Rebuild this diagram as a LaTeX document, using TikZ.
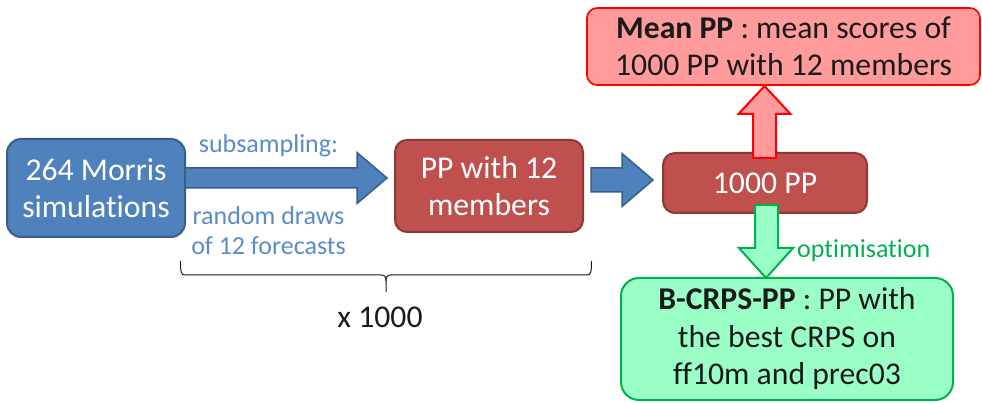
\documentclass[tikz,border=0pt]{standalone}
\usepackage{fontspec}
\setmainfont{Carlito}[Ligatures={NoCommon,NoRare,NoContextual}]
\definecolor{bluefill}{HTML}{4F81BD}
\definecolor{blueline}{HTML}{385D8A}
\definecolor{bluetext}{HTML}{5A8BCB}
\definecolor{redfill}{HTML}{C0504D}
\definecolor{redline}{HTML}{8C3836}
\definecolor{pinkfill}{HTML}{FF9B9B}
\definecolor{pinkline}{HTML}{FF0000}
\definecolor{greenfill}{HTML}{99FFC6}
\definecolor{greenline}{HTML}{00B050}
\definecolor{darktext}{HTML}{1A1A1A}
\tikzset{
  bigfont/.style={font=\fontsize{31.7}{37.5}\selectfont},
  smallfont/.style={font=\fontsize{26}{30}\selectfont},
  bluebox/.style={draw=blueline, fill=bluefill, line width=2pt, rounded corners=14pt, text=white, bigfont, align=center, inner sep=0pt},
  redbox/.style={draw=redline, fill=redfill, line width=2pt, rounded corners=12pt, text=white, bigfont, align=center, inner sep=0pt},
  pinkbox/.style={draw=pinkline, fill=pinkfill, line width=1.6pt, rounded corners=10pt, text=darktext, bigfont, align=center, inner sep=0pt},
  greenbox/.style={draw=greenline, fill=greenfill, line width=2pt, rounded corners=18pt, text=darktext, bigfont, align=center, inner sep=0pt},
  bluearrow/.style={draw=blueline, fill=bluefill, line width=1.5pt, line join=miter},
  pinkarrow/.style={draw=pinkline, fill=pinkfill, line width=2pt, line join=miter},
  greenarrow/.style={draw=greenline, fill=greenfill, line width=2pt, line join=miter},
  bluelabel/.style={text=bluetext, smallfont, align=center, inner sep=0pt},
  greenlabel/.style={text=greenline, smallfont, inner sep=0pt},
  bracestyle/.style={draw=darktext, line width=1pt},
}
\begin{document}
\begin{tikzpicture}[x=1pt,y=-1pt]
\useasboundingbox (0,0) rectangle (982,403);
% boxes
\node[bluebox, minimum width=178pt, minimum height=98pt] (morris) at (96,188) {264 Morris\\simulations};
\node[redbox, minimum width=188pt, minimum height=92pt] (pp12) at (489,186) {PP with 12\\members};
\node[redbox, minimum width=204pt, minimum height=60pt] (pp1000) at (765,183) {1000 PP};
\node[pinkbox, minimum width=393pt, minimum height=77pt] (mean) at (783.5,46.5) {\textbf{Mean PP} : mean scores of\\1000 PP with 12 members};
\node[greenbox, minimum width=332pt, minimum height=122pt] (best) at (787,339) {\textbf{B-CRPS-PP} : PP with\\the best CRPS on\\ff10m and prec03};
% block arrows
\draw[bluearrow] (185,168) -- (357,168) -- (357,152.5) -- (387,178) -- (357,203.5) -- (357,188) -- (185,188) -- cycle;
\draw[bluearrow] (591,168) -- (622,168) -- (622,153.5) -- (653,180) -- (622,206.5) -- (622,192) -- (591,192) -- cycle;
\draw[pinkarrow] (753,158) -- (753,114) -- (738.5,114) -- (764.5,86) -- (790.5,114) -- (776,114) -- (776,158) -- cycle;
\draw[greenarrow] (755,205) -- (755,248) -- (739,248) -- (766,278) -- (793,248) -- (778,248) -- (778,205) -- cycle;
% labels
\node[bluelabel] (sub) at (268.5,146) {subsampling:};
\node[bluelabel] (draws) at (268.5,231) {random draws\\of 12 forecasts};
\node[greenlabel, anchor=west] (opt) at (797,251) {optimisation};
% brace
\draw[bracestyle] (180.5,261) .. controls (180.5,272) and (181,275) .. (185,275) -- (381,275) .. controls (385,275) and (386,277) .. (386,281) -- (386,292);
\draw[bracestyle] (386,281) .. controls (386,277) and (387,275) .. (391,275) -- (587,275) .. controls (591,275) and (591.5,272) .. (591.5,261);
\node[text=darktext, bigfont, inner sep=0pt] (times) at (380,317) {x 1000};
\end{tikzpicture}
\end{document}
